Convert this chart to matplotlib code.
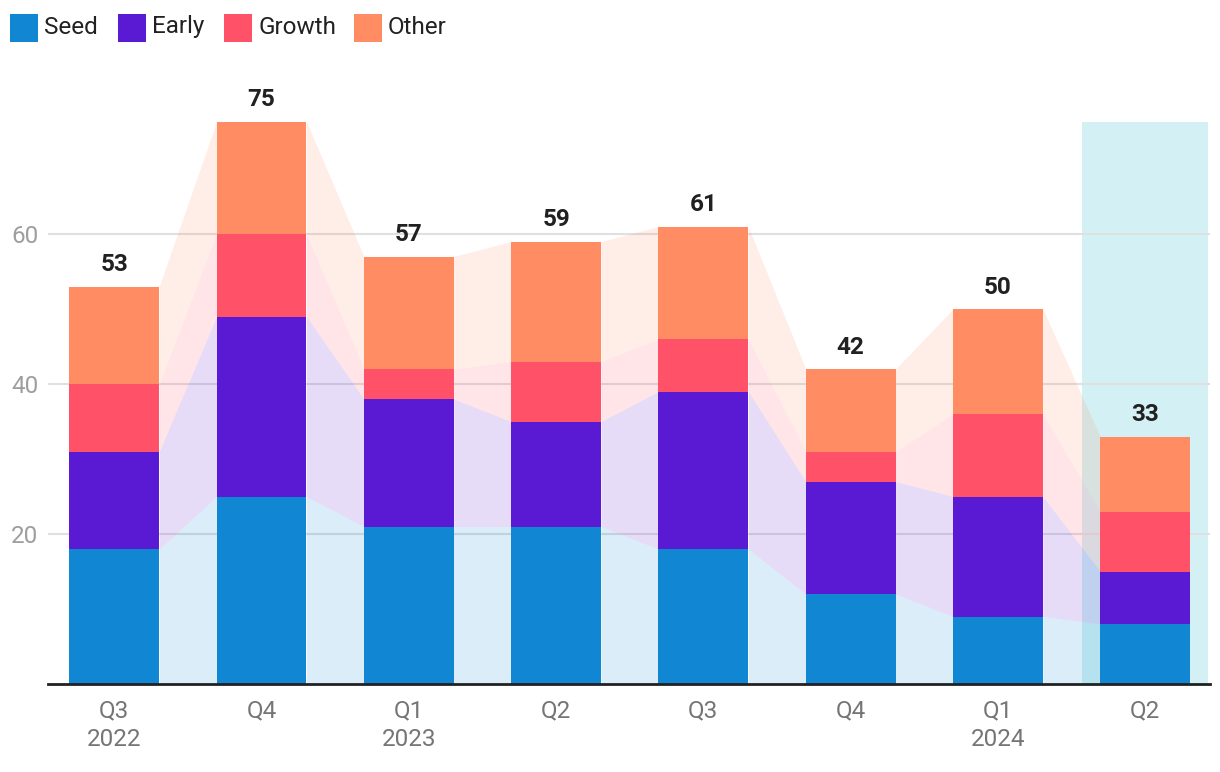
import matplotlib
matplotlib.use("Agg")
import matplotlib.pyplot as plt
from matplotlib.patches import Rectangle
import numpy as np

plt.rcParams['font.family'] = ['Roboto', 'DejaVu Sans']

quarters = ["Q3", "Q4", "Q1", "Q2", "Q3", "Q4", "Q1", "Q2"]
years = ["2022", "", "2023", "", "", "", "2024", ""]
series_names = ["Seed", "Early", "Growth", "Other"]
seed = [18, 25, 21, 21, 18, 12, 9, 8]
early = [13, 24, 17, 14, 21, 15, 16, 7]
growth = [9, 11, 4, 8, 7, 4, 11, 8]
other = [13, 15, 15, 16, 15, 11, 14, 10]
highlight_index = 7

colors = ["#1187D4", "#5A1AD4", "#FF5268", "#FF8C62"]
series = [seed, early, growth, other]

fig = plt.figure(figsize=(12.2, 7.72), dpi=100)
ax = fig.add_axes([48/1220, 88/772, (1210-48)/1220, (684-84)/772])

x = np.arange(len(quarters))
w = 0.61
data = np.array(series, dtype=float)
cum = np.vstack([np.zeros(len(x)), np.cumsum(data, axis=0)])
totals = cum[-1]
ymax = 80

# highlight band
ax.axvspan(highlight_index - 0.428, highlight_index + 0.428, ymin=0, ymax=totals.max()/ymax,
           color="#D3F1F4", zorder=0, lw=0)

# connecting areas
for s in range(len(series)):
    for i in range(len(x) - 1):
        xs = [x[i] + w/2, x[i+1] - w/2]
        ax.fill_between(xs, [cum[s][i], cum[s][i+1]], [cum[s+1][i], cum[s+1][i+1]],
                        color=colors[s], alpha=0.15, lw=0, zorder=1)

# bars
for s in range(len(series)):
    ax.bar(x, data[s], w, bottom=cum[s], color=colors[s], zorder=3, lw=0)

for i in range(len(x)):
    ax.annotate(f"{int(totals[i])}", (x[i], totals[i]), xytext=(0, 7.5), textcoords="offset points",
                ha="center", va="bottom", fontsize=17.5, fontweight="bold", color="#212121", zorder=5)

ax.set_xlim(-0.45, 7.44)
ax.set_ylim(0, ymax)
ax.set_yticks([20, 40, 60])
ax.grid(axis="y", color="#E0E0E0", lw=1.5, zorder=0)
ax.set_axisbelow(True)
ax.tick_params(axis="y", length=0, pad=7, labelsize=17.5, labelcolor="#9E9E9E")
ax.set_xticks(x)
ax.set_xticklabels([q + ("\n" + y if y else "") for q, y in zip(quarters, years)], va="top")
ax.tick_params(axis="x", length=0, pad=11, labelsize=17.5, labelcolor="#757575")
for t in ax.get_xticklabels():
    t.set_linespacing(1.3)
for sp in ["top", "right", "left"]:
    ax.spines[sp].set_visible(False)
ax.spines["bottom"].set_color("#212121")
ax.spines["bottom"].set_linewidth(2)
ax.spines["bottom"].set_zorder(6)

# legend
lx = [10, 118, 224, 354]
for name, c, px in zip(series_names, colors, lx):
    fig.patches.append(Rectangle((px/1220, 1 - 42/772), 28/1220, 28/772, transform=fig.transFigure,
                                 facecolor=c, lw=0))
    fig.text((px + 34)/1220, 1 - 27/772, name, fontsize=17.5, color="#212121", va="center", ha="left")

fig.savefig("out.png", dpi=100)
